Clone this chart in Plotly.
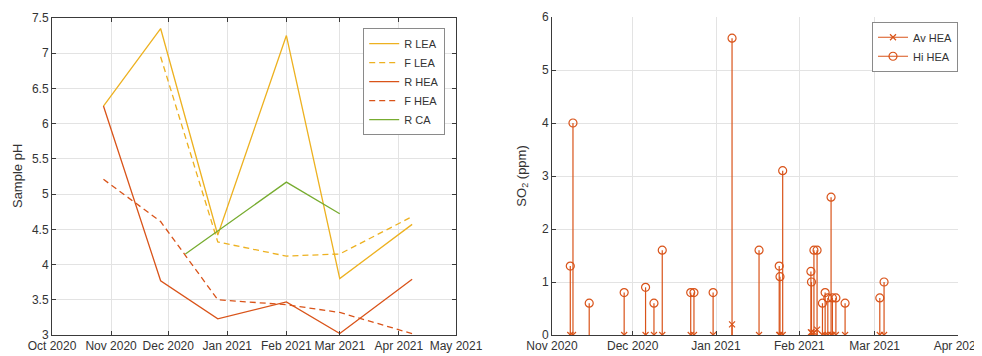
import plotly.graph_objects as go

# ---------------- Left chart data (Sample pH) ----------------
dates6 = ["2020-10-28", "2020-11-27", "2020-12-27", "2021-02-01", "2021-03-01", "2021-04-08"]
r_lea = [6.25, 7.35, 4.42, 7.25, 3.80, 4.57]
f_lea_dates = ["2020-11-27", "2020-12-27", "2021-02-01", "2021-03-01", "2021-04-08"]
f_lea = [6.95, 4.32, 4.12, 4.15, 4.68]
r_hea = [6.25, 3.77, 3.23, 3.47, 3.02, 3.79]
f_hea = [5.21, 4.61, 3.50, 3.43, 3.32, 3.02]
r_ca_dates = ["2020-12-10", "2021-02-01", "2021-03-01"]
r_ca = [4.15, 5.17, 4.72]

# ---------------- Right chart data (SO2 ppm) ----------------
so2_dates = [
    "2020-11-07 19:00", "2020-11-08 19:00", "2020-11-14 20:00", "2020-11-27 20:00",
    "2020-12-05 19:00", "2020-12-08 22:00", "2020-12-12 00:00", "2020-12-22 14:00",
    "2020-12-23 19:00", "2020-12-30 22:00", "2021-01-06 23:00", "2021-01-17 00:00",
    "2021-01-24 12:00", "2021-01-24 19:00", "2021-01-25 19:00", "2021-02-05 07:00",
    "2021-02-05 12:00", "2021-02-06 10:00", "2021-02-07 14:00", "2021-02-09 14:00",
    "2021-02-10 14:00", "2021-02-11 14:00", "2021-02-12 19:00", "2021-02-13 07:00",
    "2021-02-14 14:00", "2021-02-18 00:00", "2021-03-02 22:00", "2021-03-04 12:00",
]
hi_hea = [1.3, 4.0, 0.6, 0.8, 0.9, 0.6, 1.6, 0.8, 0.8, 0.8, 5.6, 1.6,
          1.3, 1.1, 3.1, 1.2, 1.0, 1.6, 1.6, 0.6, 0.8, 0.7, 2.6, 0.7,
          0.7, 0.6, 0.7, 1.0]
av_hea = [0, 0, None, 0, 0, 0, 0, 0, 0, 0, 0.2, 0,
          0, 0, 0, 0.05, 0.05, 0.05, 0.1, 0, 0, 0, 0, 0,
          0, 0, 0, 0]

left_yticks = [3, 3.5, 4, 4.5, 5, 5.5, 6, 6.5, 7, 7.5]
left_yticklabels = ["3", "3.5", "4", "4.5", "5", "5.5", "6", "6.5", "7", "7.5"]

YEL = "#EDB120"
RED = "#D95319"
GRN = "#77AC30"
FONT = "Liberation Sans, Arial, sans-serif"
TXT = "#333333"

fig = go.Figure()

lw = 1.3
fig.add_trace(go.Scatter(x=dates6, y=r_lea, mode="lines", name="R LEA",
                         line=dict(color=YEL, width=lw), xaxis="x", yaxis="y", legend="legend"))
fig.add_trace(go.Scatter(x=f_lea_dates, y=f_lea, mode="lines", name="F LEA",
                         line=dict(color=YEL, width=lw, dash="6px,4px"), xaxis="x", yaxis="y", legend="legend"))
fig.add_trace(go.Scatter(x=dates6, y=r_hea, mode="lines", name="R HEA",
                         line=dict(color=RED, width=lw), xaxis="x", yaxis="y", legend="legend"))
fig.add_trace(go.Scatter(x=dates6, y=f_hea, mode="lines", name="F HEA",
                         line=dict(color=RED, width=lw, dash="6px,4px"), xaxis="x", yaxis="y", legend="legend"))
fig.add_trace(go.Scatter(x=r_ca_dates, y=r_ca, mode="lines", name="R CA",
                         line=dict(color=GRN, width=lw), xaxis="x", yaxis="y", legend="legend"))

# Stems for right chart (drawn with one-sided error bars down to baseline 0)
fig.add_trace(go.Scatter(
    x=so2_dates, y=hi_hea, mode="markers", name="Hi HEA", showlegend=False,
    marker=dict(symbol="circle-open", size=8, color=RED, line=dict(width=1.2)),
    error_y=dict(type="data", symmetric=False, array=[0] * len(hi_hea),
                 arrayminus=hi_hea, width=0, thickness=1.2, color=RED),
    xaxis="x2", yaxis="y2"))
fig.add_trace(go.Scatter(
    x=so2_dates, y=av_hea, mode="markers", name="Av HEA", showlegend=False,
    marker=dict(symbol="x-thin-open", size=6, color=RED, line=dict(width=1.2, color=RED)),
    error_y=dict(type="data", symmetric=False, array=[0] * len(av_hea),
                 arrayminus=[v if v is not None else 0 for v in av_hea],
                 width=0, thickness=1.2, color=RED),
    xaxis="x2", yaxis="y2"))
# legend entries for right chart
fig.add_trace(go.Scatter(x=[None], y=[None], mode="lines+markers", name="Av HEA",
                         line=dict(color=RED, width=1.2),
                         marker=dict(symbol="x-thin-open", size=6, color=RED, line=dict(width=1.2, color=RED)),
                         xaxis="x2", yaxis="y2", legend="legend2"))
fig.add_trace(go.Scatter(x=[None], y=[None], mode="lines+markers", name="Hi HEA",
                         line=dict(color=RED, width=1.2),
                         marker=dict(symbol="circle-open", size=8, color=RED, line=dict(width=1.2)),
                         xaxis="x2", yaxis="y2", legend="legend2"))

GRID = "#e3e3e3"
AX = "#3a3a3a"
tickfont = dict(family=FONT, size=12, color=TXT)

common_x = dict(type="date", dtick="M1", tickformat="%b %Y", showgrid=True, gridcolor=GRID,
                gridwidth=1, showline=True, linecolor=AX, linewidth=1, ticks="inside",
                ticklen=4, tickcolor=AX, tickfont=tickfont, zeroline=False,
                tickangle=0, automargin=False, ticklabeloverflow="allow")
common_y = dict(showgrid=True, gridcolor=GRID, gridwidth=1, showline=True, linecolor=AX,
                linewidth=1, ticks="inside", ticklen=4, tickcolor=AX, tickfont=tickfont,
                zeroline=False, automargin=False)

# the page body has an 8px default margin; size the figure so it fits the 982x356 window
fig.update_layout(
    width=974, height=348,
    margin=dict(l=44, r=24, t=9, b=21, autoexpand=False),
    paper_bgcolor="white", plot_bgcolor="white",
    font=dict(family=FONT, size=12, color=TXT),
    xaxis=dict(common_x, domain=[0, 0.4459], range=["2020-10-01", "2021-05-01"],
               mirror="ticks", anchor="y"),
    yaxis=dict(common_y, domain=[0, 0.997], range=[3, 7.5], tickvals=left_yticks,
               ticktext=left_yticklabels, mirror="ticks", anchor="x"),
    xaxis2=dict(common_x, domain=[0.5519, 1], range=["2020-11-01", "2021-04-01 00:01"],
                anchor="y2"),
    yaxis2=dict(common_y, domain=[0, 1], range=[0, 6], dtick=1, anchor="x2"),
    legend=dict(x=0.434, y=0.965, xanchor="right", yanchor="top", bgcolor="white",
                bordercolor="#8a8a8a", borderwidth=1, font=dict(family=FONT, size=11, color=TXT),
                itemwidth=30, tracegroupgap=0),
    legend2=dict(x=1.0, y=0.985, xanchor="right", yanchor="top", bgcolor="white",
                 bordercolor="#8a8a8a", borderwidth=1, font=dict(family=FONT, size=11, color=TXT),
                 itemwidth=30),
    annotations=[
        dict(text="Sample pH", x=-0.0386, y=0.5, xref="paper", yref="paper",
             textangle=-90, showarrow=False, xanchor="center", yanchor="middle",
             font=dict(family=FONT, size=13, color=TXT)),
        dict(text="SO<sub>2</sub> (ppm)", x=0.5184, y=0.5, xref="paper", yref="paper",
             textangle=-90, showarrow=False, xanchor="center", yanchor="middle",
             font=dict(family=FONT, size=13, color=TXT)),
    ],
)

fig.write_html("out.html")
